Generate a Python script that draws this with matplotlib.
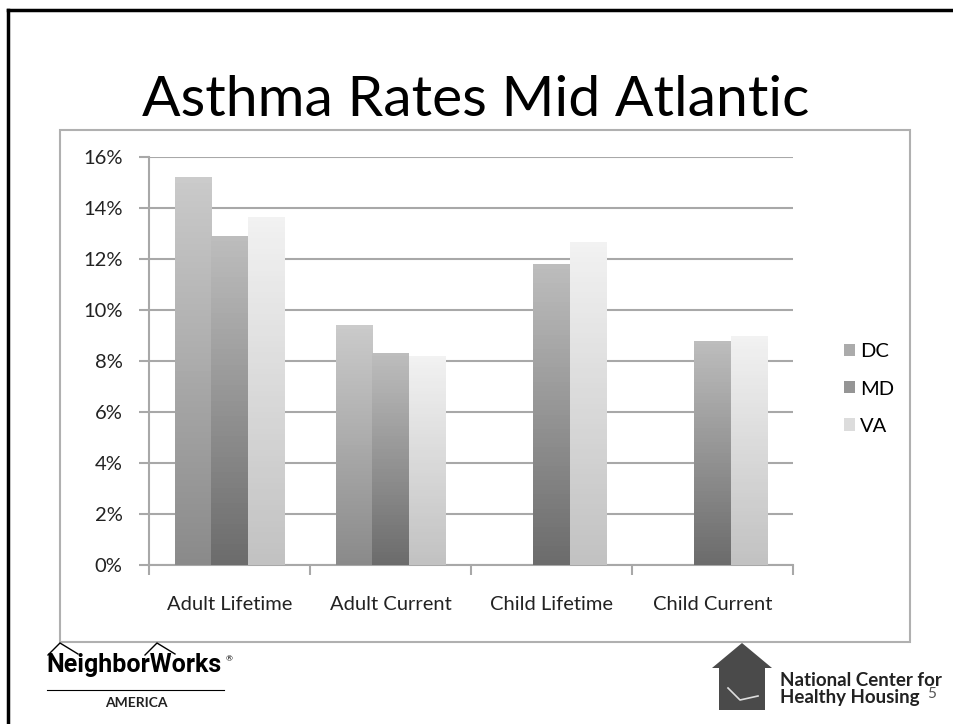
import matplotlib
matplotlib.use("Agg")
import matplotlib.pyplot as plt
import matplotlib.patches as mpatches
import matplotlib.colors as mcolors
import numpy as np

categories = ["Adult Lifetime", "Adult Current", "Child Lifetime", "Child Current"]
states = ["DC", "MD", "VA"]
dc = [15.2, 9.4, np.nan, np.nan]
md = [12.9, 8.3, 11.8, 8.8]
va = [13.65, 8.2, 12.65, 9.0]
yticks = [0, 2, 4, 6, 8, 10, 12, 14, 16]

# gradient colours (top, bottom) per series
grad = {"DC": ("#cbcbcb", "#8a8a8a"), "MD": ("#bdbdbd", "#6c6c6c"), "VA": ("#f2f2f2", "#c2c2c2")}
legend_col = {"DC": "#ababab", "MD": "#959595", "VA": "#dcdcdc"}

plt.rcParams["font.family"] = ["Lato", "DejaVu Sans"]

fig = plt.figure(figsize=(9.54, 7.24), dpi=100)

# slide border (left + top) and chart frame
fig.add_artist(plt.Line2D([8/954, 8/954], [0, 1 - 10/724], color="black", lw=2.5))
fig.add_artist(plt.Line2D([8/954, 1], [1 - 10/724, 1 - 10/724], color="black", lw=2.5))
fig.add_artist(mpatches.Rectangle((60/954, 1 - 642/724), 850/954, 512/724, fill=False,
                                  edgecolor="#b0b0b0", lw=1.5))

fig.text(476/954, 1 - 101/724, "Asthma Rates Mid Atlantic", ha="center", va="center",
         fontsize=41, color="black")

ax = fig.add_axes([149/954, 1 - 565/724, 644/954, 408/724])
x = np.arange(len(categories))
w = 0.224
series = [dc, md, va]
for i, (name, vals) in enumerate(zip(states, series)):
    bars = ax.bar(x + (i - 1) * w, vals, w, facecolor="none", edgecolor="none", zorder=3)
    top, bot = grad[name]
    cmap = mcolors.LinearSegmentedColormap.from_list(name, [bot, top])
    g = np.linspace(0, 1, 64).reshape(-1, 1)
    for b in bars:
        h = b.get_height()
        if np.isnan(h):
            continue
        x0 = b.get_x()
        im = ax.imshow(g, cmap=cmap, origin="lower", aspect="auto",
                       extent=[x0, x0 + w, 0, h], zorder=3)
        im.set_clip_path(b)

ax.set_xlim(-0.5, 3.5)
ax.set_ylim(0, 16)
ax.set_yticks(yticks)
ax.set_yticklabels([f"{v}%" for v in yticks])
ax.yaxis.grid(True, color="#a8a8a8", lw=1.5)
ax.set_axisbelow(True)
ax.set_xticks(np.arange(-0.5, 4, 1))
ax.set_xticklabels([])
ax.set_xticks(x, minor=True)
ax.set_xticklabels(categories, minor=True)
ax.tick_params(axis="x", which="minor", length=0, pad=22, labelsize=14.5, colors="#222222")
ax.tick_params(axis="x", which="major", length=7, color="#a8a8a8", width=1.5)
ax.tick_params(axis="y", length=7, color="#a8a8a8", width=1.5, labelsize=14.5, pad=12,
               labelcolor="#222222")
for s in ["top", "right"]:
    ax.spines[s].set_visible(False)
for s in ["left", "bottom"]:
    ax.spines[s].set_color("#a8a8a8")
    ax.spines[s].set_linewidth(1.5)

handles = [mpatches.Patch(facecolor=legend_col[s], edgecolor="none", label=s) for s in states]
fig.legend(handles=handles, loc="center left", bbox_to_anchor=(826/954, 1 - 389/724),
           frameon=False, fontsize=14.5, handlelength=0.55, handleheight=0.55,
           handletextpad=0.25, labelspacing=1.0)

# logos (text approximations)
fig.text(134/954, 1 - 665/724, "NeighborWorks", ha="center", va="center", fontsize=18,
         fontweight="bold", family=["Roboto", "DejaVu Sans"])
fig.text(229/954, 1 - 659/724, "®", ha="center", va="center", fontsize=6)
fig.add_artist(plt.Line2D([47/954, 224/954], [1 - 690/724, 1 - 690/724], color="black", lw=0.8))
fig.text(136/954, 1 - 703/724, "AMERICA", ha="center", va="center", fontsize=10,
         fontweight="bold", color="#222222")
fig.add_artist(plt.Line2D([48/954, 60/954, 78/954], [1 - 655/724, 1 - 643/724, 1 - 654/724],
                          color="black", lw=1))
fig.add_artist(plt.Line2D([145/954, 157/954, 175/954], [1 - 655/724, 1 - 643/724, 1 - 654/724],
                          color="black", lw=1))

house = mpatches.Polygon([(712/954, 1 - 668/724), (742/954, 1 - 643/724), (772/954, 1 - 668/724),
                          (765/954, 1 - 668/724), (765/954, 1 - 710/724), (719/954, 1 - 710/724),
                          (719/954, 1 - 668/724)], closed=True, facecolor="#4a4a4a",
                         edgecolor="none", transform=fig.transFigure)
fig.add_artist(house)
fig.add_artist(plt.Line2D([728/954, 740/954, 758/954], [1 - 688/724, 1 - 700/724, 1 - 696/724],
                          color="#dddddd", lw=1.2))
fig.text(780/954, 1 - 680/724, "National Center for", ha="left", va="center", fontsize=13.5,
         fontweight="bold", color="#222222")
fig.text(780/954, 1 - 697/724, "Healthy Housing", ha="left", va="center", fontsize=13.5,
         fontweight="bold", color="#222222")
fig.text(932/954, 1 - 694/724, "5", ha="center", va="center", fontsize=11, color="#555555")

plt.savefig("out.png", dpi=100)
